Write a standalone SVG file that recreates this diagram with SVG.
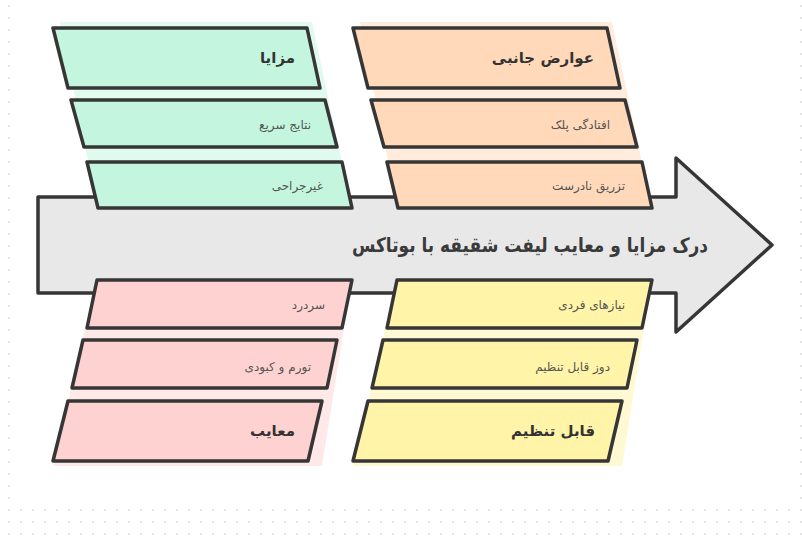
<svg xmlns="http://www.w3.org/2000/svg" width="802" height="539" viewBox="0 0 802 539">
<defs>
<pattern id="dots" x="0" y="0" width="12" height="12" patternUnits="userSpaceOnUse">
<rect x="8" y="5" width="2" height="2" fill="#e4e4e4"/>
</pattern>
<style>
.box{stroke:#363636;stroke-width:3.5;stroke-linejoin:round}
.g{fill:#c4f6df}.o{fill:#ffd9ba}.p{fill:#ffd2d2}.y{fill:#fff4a8}
.gb{fill:#c4f6df;opacity:0.5}.ob{fill:#ffd9ba;opacity:0.5}.pb{fill:#ffd2d2;opacity:0.5}.yb{fill:#fff4a8;opacity:0.5}
.h{font-family:"DejaVu Sans","Liberation Sans",sans-serif;font-weight:bold;font-size:15px;fill:#333;text-anchor:end}
.t{font-family:"DejaVu Sans","Liberation Sans",sans-serif;font-size:12px;fill:#555;text-anchor:end}
.title{font-family:"DejaVu Sans","Liberation Sans",sans-serif;font-weight:bold;font-size:20px;fill:#3a3a3a;text-anchor:end}
</style>
</defs>
<rect width="802" height="539" fill="#ffffff"/>
<rect width="802" height="539" fill="url(#dots)"/>
<rect x="15" y="0" width="781" height="503" fill="#ffffff"/>

<g id="connectors">
<polygon points="38,197 676,197 676,158 772,245 676,332 676,293 38,293" fill="#e8e8e8" stroke="#363636" stroke-width="3.5" stroke-linejoin="round"/>
</g>

<g id="bg-bands">
<polygon class="gb" points="60,22 312,22 352,210 98,210"/>
<polygon class="ob" points="360,22 612,22 652,210 398,210"/>
<polygon class="pb" points="97,278 352,278 322,466 53,466"/>
<polygon class="yb" points="397,278 652,278 622,466 353,466"/>
</g>

<g id="node-mazaya">
<polygon class="box g" points="53,28 307,28 320,88 68,88"/>
<text class="h" x="295" y="63">مزایا</text>
</g>
<g id="node-natayej">
<polygon class="box g" points="71,100 325,100 337,147 84,147"/>
<text class="t" x="311" y="129">نتایج سریع</text>
</g>
<g id="node-gheirjarahi">
<polygon class="box g" points="87,162 342,162 352,208 98,208"/>
<text class="t" x="323" y="190">غیرجراحی</text>
</g>

<g id="node-avarez">
<polygon class="box o" points="353,28 607,28 620,88 368,88"/>
<text class="h" x="594" y="63">عوارض جانبی</text>
</g>
<g id="node-oftadegi">
<polygon class="box o" points="371,100 625,100 637,147 384,147"/>
<text class="t" x="610" y="129">افتادگی پلک</text>
</g>
<g id="node-tazrigh">
<polygon class="box o" points="387,162 642,162 652,208 398,208"/>
<text class="t" x="625" y="190">تزریق نادرست</text>
</g>

<g id="node-sardard">
<polygon class="box p" points="97,280 352,280 342,328 87,328"/>
<text class="t" x="325" y="309">سردرد</text>
</g>
<g id="node-tavarom">
<polygon class="box p" points="83,340 337,340 327,388 72,388"/>
<text class="t" x="311" y="371">تورم و کبودی</text>
</g>
<g id="node-maayeb">
<polygon class="box p" points="68,401 322,401 308,461 53,461"/>
<text class="h" x="295" y="436">معایب</text>
</g>

<g id="node-niazha">
<polygon class="box y" points="397,280 652,280 642,328 387,328"/>
<text class="t" x="625" y="309">نیازهای فردی</text>
</g>
<g id="node-doz">
<polygon class="box y" points="383,340 637,340 627,388 372,388"/>
<text class="t" x="610" y="371">دوز قابل تنظیم</text>
</g>
<g id="node-ghabel">
<polygon class="box y" points="368,401 622,401 608,461 353,461"/>
<text class="h" x="595" y="436">قابل تنظیم</text>
</g>

<g id="node-title">
<text class="title" x="708" y="252" textLength="356" lengthAdjust="spacingAndGlyphs">درک مزایا و معایب لیفت شقیقه با بوتاکس</text>
</g>
</svg>
